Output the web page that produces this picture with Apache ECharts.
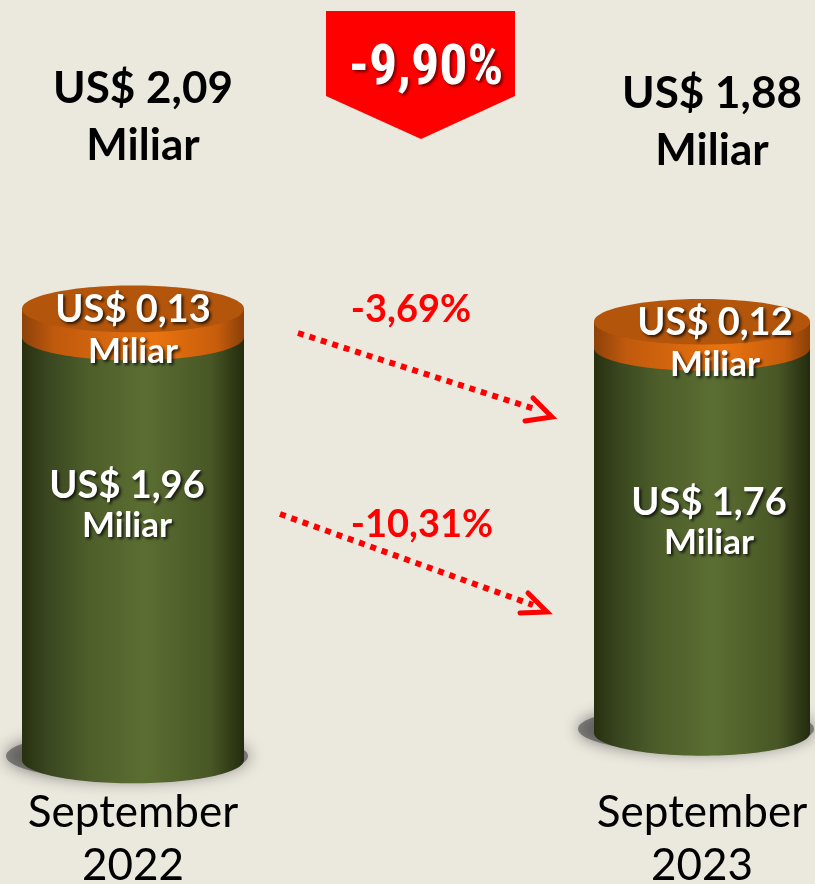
<!DOCTYPE html>
<html>
<head>
<meta charset="utf-8">
<script src="https://cdn.jsdelivr.net/npm/echarts@6/dist/echarts.min.js"></script>
<style>
html, body { margin: 0; padding: 0; background: #EBE8DE; }
#main { width: 815px; height: 884px; }
</style>
</head>
<body>
<div id="main"></div>
<script>
// values (US$ billion)
var periods = ['September\n2022', 'September\n2023'];
var totals = [2.09, 1.88];
var baseValues = [1.96, 1.76];   // green part
var topValues = [0.13, 0.12];    // orange part
var segmentChanges = ['-3,69%', '-10,31%'];
var totalChange = '-9,90%';

var FONT = 'Lato, "Open Sans", sans-serif';

function usd(v) {
    return 'US$ ' + v.toFixed(2).replace('.', ',');
}

var greenGrad = {
    type: 'linear', x: 0, y: 0, x2: 1, y2: 0,
    colorStops: [
        { offset: 0, color: '#27300f' },
        { offset: 0.12, color: '#3a4720' },
        { offset: 0.3, color: '#4d5e2a' },
        { offset: 0.55, color: '#5b6e32' },
        { offset: 0.85, color: '#485725' },
        { offset: 1, color: '#232b0e' }
    ]
};
var orangeGrad = {
    type: 'linear', x: 0, y: 0, x2: 1, y2: 0,
    colorStops: [
        { offset: 0, color: '#8c420a' },
        { offset: 0.15, color: '#c15a0d' },
        { offset: 0.6, color: '#ea730f' },
        { offset: 0.88, color: '#c65d0c' },
        { offset: 1, color: '#8a3f08' }
    ]
};

var whiteShadow = {
    textShadowColor: 'rgba(0,0,0,0.75)',
    textShadowBlur: 3,
    textShadowOffsetX: 2,
    textShadowOffsetY: 2
};

// label placement inside each cylinder (per column)
var labelDx = [0, 13];
var baseLabelPos = [0.4, 0.455];

function labelText(x, y, value, big, small, lh) {
    return {
        type: 'text',
        x: x,
        y: y,
        style: {
            text: '{a|' + usd(value) + '}\n{b|Miliar}',
            align: 'center',
            verticalAlign: 'middle',
            rich: {
                a: Object.assign({ fontFamily: FONT, fontWeight: 'bold', fontSize: big, lineHeight: lh, fill: '#ffffff' }, whiteShadow),
                b: Object.assign({ fontFamily: FONT, fontWeight: 'bold', fontSize: small, lineHeight: lh, fill: '#ffffff' }, whiteShadow)
            }
        }
    };
}

function renderCylinder(params, api) {
    var i = params.seriesIndex;
    var base = api.value(1);
    var top = api.value(2);
    var pBottom = api.coord([0, 0]);
    var pMid = api.coord([0, base]);
    var pTop = api.coord([0, base + top]);
    var w = api.size([1, 0])[0];
    var rx = w / 2;
    var ry = w * 0.105;
    var cx = pBottom[0];
    var yB = pBottom[1], yM = pMid[1], yT = pTop[1];
    return {
        type: 'group',
        children: [
            {
                type: 'ellipse',
                shape: { cx: cx - 6, cy: yB - 4, rx: rx + 10, ry: ry + 1 },
                style: { fill: 'rgba(70,70,70,0.6)', shadowBlur: 16, shadowColor: 'rgba(40,40,40,0.95)' }
            },
            { type: 'ellipse', shape: { cx: cx, cy: yB, rx: rx, ry: ry }, style: { fill: greenGrad } },
            { type: 'rect', shape: { x: cx - rx, y: yM, width: w, height: yB - yM }, style: { fill: greenGrad } },
            { type: 'ellipse', shape: { cx: cx, cy: yM, rx: rx, ry: ry }, style: { fill: orangeGrad } },
            { type: 'rect', shape: { x: cx - rx, y: yT, width: w, height: yM - yT }, style: { fill: orangeGrad } },
            { type: 'ellipse', shape: { cx: cx, cy: yT, rx: rx, ry: ry }, style: { fill: '#b3550b' } },
            labelText(cx + labelDx[i], yT + 22, top, 38, 35, 42),
            labelText(cx + labelDx[i] - 6, yM + (yB - yM) * baseLabelPos[i], base, 38, 35, 40)
        ]
    };
}

var option = {
    backgroundColor: '#EBE8DE',
    animation: false,
    grid: [
        { left: 22, width: 222, bottom: 124, height: 518, outerBoundsMode: 'none', containLabel: false },
        { left: 594, width: 216, bottom: 151, height: 525, outerBoundsMode: 'none', containLabel: false }
    ],
    xAxis: [0, 1].map(function (i) {
        return {
            type: 'category',
            gridIndex: i,
            data: [periods[i]],
            axisLine: { show: false },
            axisTick: { show: false },
            axisLabel: {
                margin: i === 0 ? 26 : 53,
                fontFamily: FONT,
                fontSize: 44,
                lineHeight: 53,
                color: '#000000'
            }
        };
    }),
    yAxis: [0, 1].map(function (i) {
        return { type: 'value', gridIndex: i, min: 0, max: 2.4, show: false };
    }),
    series: [0, 1].map(function (i) {
        return {
            type: 'custom',
            xAxisIndex: i,
            yAxisIndex: i,
            renderItem: renderCylinder,
            data: [[0, baseValues[i], topValues[i]]]
        };
    }),
    graphic: [
        // totals above the columns
        {
            type: 'text', x: 143, y: 117,
            style: {
                text: usd(totals[0]) + '\nMiliar', align: 'center', verticalAlign: 'middle',
                fontFamily: FONT, fontWeight: 'bold', fontSize: 44, lineHeight: 57, fill: '#000'
            }
        },
        {
            type: 'text', x: 712, y: 122,
            style: {
                text: usd(totals[1]) + '\nMiliar', align: 'center', verticalAlign: 'middle',
                fontFamily: FONT, fontWeight: 'bold', fontSize: 44, lineHeight: 57, fill: '#000'
            }
        },
        // total change banner
        {
            type: 'polygon',
            shape: { points: [[326, 11], [515, 11], [515, 96], [421, 139], [326, 96]] },
            style: { fill: '#ff0000' }
        },
        {
            type: 'text', x: 426, y: 70,
            style: {
                text: totalChange, align: 'center', verticalAlign: 'middle',
                fontFamily: '"Liberation Sans Narrow", "Roboto Condensed", Roboto, sans-serif',
                fontWeight: 'bold', fontSize: 56, fill: '#ffffff',
                textShadowColor: 'rgba(80,0,0,0.8)', textShadowBlur: 3, textShadowOffsetX: 2, textShadowOffsetY: 2
            }
        },
        // segment change arrows
        {
            type: 'line', shape: { x1: 298, y1: 333, x2: 538, y2: 410 },
            style: { stroke: '#ff0000', lineWidth: 6, lineDash: [6, 6], lineCap: 'butt' }
        },
        {
            type: 'polyline', shape: { points: [[533, 398], [552, 417], [525, 421]] },
            style: { stroke: '#ff0000', lineWidth: 5, fill: null, lineCap: 'round', lineJoin: 'miter' }
        },
        {
            type: 'line', shape: { x1: 280, y1: 514, x2: 533, y2: 605 },
            style: { stroke: '#ff0000', lineWidth: 6, lineDash: [6, 6], lineCap: 'butt' }
        },
        {
            type: 'polyline', shape: { points: [[528, 593], [547, 612], [520, 613]] },
            style: { stroke: '#ff0000', lineWidth: 5, fill: null, lineCap: 'round', lineJoin: 'miter' }
        },
        {
            type: 'text', x: 411, y: 310,
            style: {
                text: segmentChanges[0], align: 'center', verticalAlign: 'middle',
                fontFamily: FONT, fontWeight: 'bold', fontSize: 38, fill: '#ff0000'
            }
        },
        {
            type: 'text', x: 422, y: 525,
            style: {
                text: segmentChanges[1], align: 'center', verticalAlign: 'middle',
                fontFamily: FONT, fontWeight: 'bold', fontSize: 38, fill: '#ff0000'
            }
        }
    ]
};

var myChart = echarts.init(document.getElementById('main'));
myChart.setOption(option);
</script>
</body>
</html>
